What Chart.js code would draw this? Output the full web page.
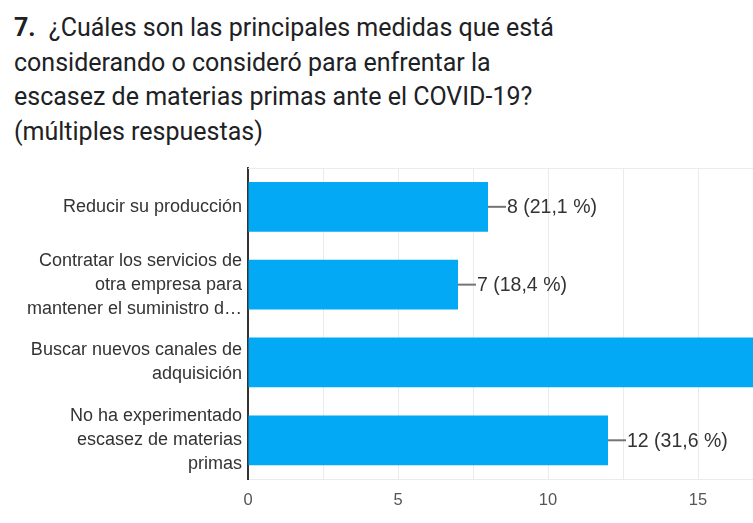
<!DOCTYPE html>
<html>
<head>
<meta charset="utf-8">
<script src="https://cdn.jsdelivr.net/npm/chart.js@4"></script>
<style>
  html, body { margin: 0; padding: 0; background: #fff; overflow: hidden; width: 753px; height: 523px; }
  #title {
    position: absolute; left: 14px; top: 11px; width: 700px;
    font-family: Roboto, "Noto Sans", sans-serif; font-size: 25px; line-height: 34.5px; color: #202124;
  }
  #title b { margin-right: 7px; }
  #box { position: absolute; left: 0; top: 126px; width: 870px; height: 402px; }
</style>
</head>
<body>
<div id="title"><b>7.</b> ¿Cuáles son las principales medidas que está<br>considerando o consideró para enfrentar la<br>escasez de materias primas ante el COVID-19?<br>(múltiples respuestas)</div>
<div id="box"><canvas id="chart"></canvas></div>
<script>
// ---------------- DATA ----------------
const categories = [
    ["Reducir su producción"],
    ["Contratar los servicios de", "otra empresa para", "mantener el suministro d…"],
    ["Buscar nuevos canales de", "adquisición"],
    ["No ha experimentado", "escasez de materias", "primas"]
];
const counts = [8, 7, 20, 12];
const percents = ["21,1", "18,4", "52,6", "31,6"];
const xTicks = [0, 5, 10, 15, 20];

const barColor = "#03a9f4";
const fontFamily = "'Liberation Sans', Arial, sans-serif";

// leader line + "n (p %)" after each bar
const valueLabels = {
    id: "valueLabels",
    afterDatasetsDraw(chart) {
        const ctx = chart.ctx;
        const meta = chart.getDatasetMeta(0);
        ctx.save();
        ctx.font = "19.5px " + fontFamily;
        ctx.textBaseline = "middle";
        meta.data.forEach((bar, i) => {
            const x = bar.x, y = bar.y;
            ctx.strokeStyle = "#757575";
            ctx.lineWidth = 2;
            ctx.beginPath();
            ctx.moveTo(x, y);
            ctx.lineTo(x + 18, y);
            ctx.stroke();
            ctx.fillStyle = "#333";
            ctx.fillText(`${counts[i]} (${percents[i]} %)`, x + 19, y + 1);
        });
        ctx.restore();
    }
};

// light line along the top of the plot
const topLine = {
    id: "topLine",
    beforeDatasetsDraw(chart) {
        const a = chart.chartArea, ctx = chart.ctx;
        ctx.save();
        ctx.strokeStyle = "#ebebeb";
        ctx.lineWidth = 1;
        ctx.beginPath();
        ctx.moveTo(a.left, a.top + 0.5);
        ctx.lineTo(a.right, a.top + 0.5);
        ctx.stroke();
        ctx.restore();
    }
};

new Chart(document.getElementById("chart"), {
    type: "bar",
    data: {
        labels: categories,
        datasets: [{
            data: counts,
            backgroundColor: barColor,
            barPercentage: 0.64,
            categoryPercentage: 1
        }]
    },
    options: {
        indexAxis: "y",
        responsive: true,
        maintainAspectRatio: false,
        animation: false,
        layout: { padding: { top: 0, bottom: 7, left: 0, right: 22 } },
        plugins: {
            legend: { display: false },
            tooltip: { enabled: false }
        },
        scales: {
            x: {
                min: 0,
                max: xTicks[xTicks.length - 1],
                ticks: {
                    stepSize: 2.5,
                    padding: 11,
                    color: "#555",
                    maxRotation: 0,
                    font: { size: 16.5, family: fontFamily },
                    callback: v => xTicks.includes(v) ? v : ""
                },
                grid: { color: "#ebebeb", drawTicks: false },
                border: { color: "#ebebeb" }
            },
            y: {
                afterFit: s => { s.width = 248; },
                ticks: {
                    autoSkip: false,
                    color: "#333",
                    padding: 6,
                    font: { size: 18, family: fontFamily, lineHeight: 1.33 }
                },
                grid: { display: false, drawTicks: false },
                border: { color: "#333", width: 2 }
            }
        }
    },
    plugins: [topLine, valueLabels]
});
</script>
</body>
</html>
